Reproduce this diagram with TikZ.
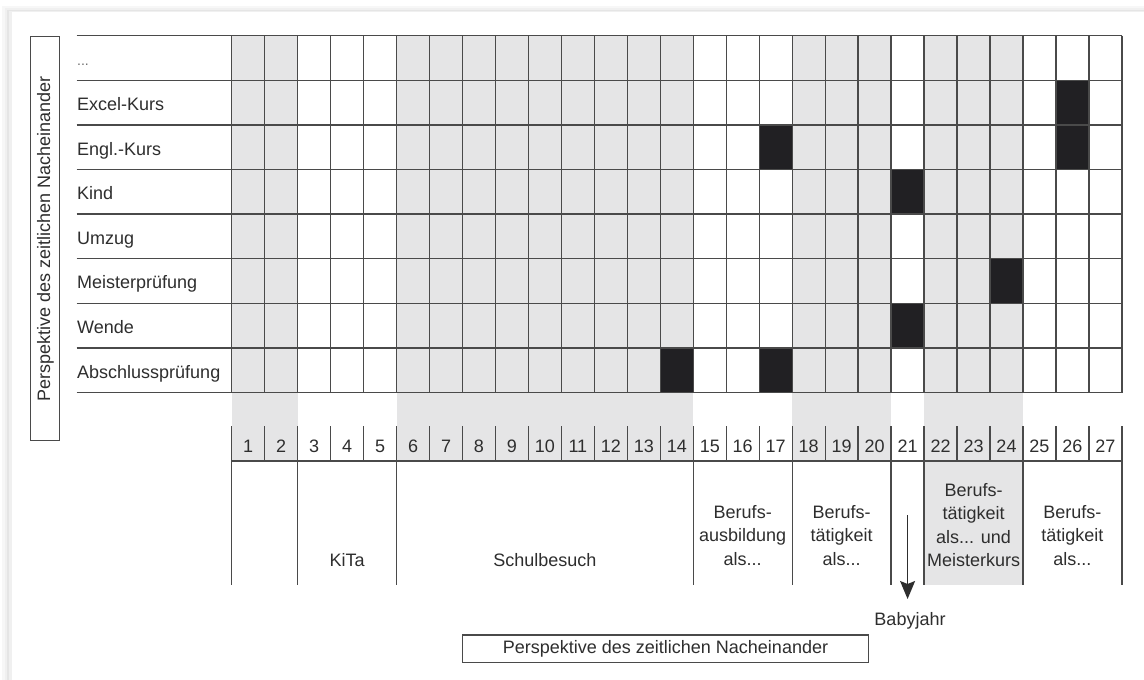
\documentclass[tikz,border=0pt]{standalone}
\usepackage{fontspec}
\setmainfont{Liberation Sans}
\usetikzlibrary{arrows.meta}
\definecolor{ln}{HTML}{4A4A4A}
\definecolor{tx}{HTML}{2E2E2E}
\definecolor{gr}{HTML}{E5E5E6}
\definecolor{bk}{HTML}{212023}
\begin{document}
\begin{tikzpicture}[x=1pt,y=-1pt,
  gridline/.style={draw=ln,line width=1.3pt},
  lbl/.style={text=tx,font=\fontsize{18}{23.5}\selectfont,inner sep=0pt},
  multi/.style={lbl,align=center,anchor=north},
  num/.style={lbl,anchor=base},
  boxlbl/.style={lbl,draw=ln,line width=1.2pt,text height=13pt,text depth=3pt}]
\def\xo{231.7}\def\cw{32.97}\def\yo{35.7}\def\rh{44.6}
\useasboundingbox (0,0) rectangle (1144,680);
% card with shadow
\fill[black!3] (2,6) rectangle (1144,680);
\fill[black!6] (5,8) rectangle (1144,680);
\fill[black!10] (7,10) rectangle (1144,680);
\fill[black!6] (9,11) rectangle (1144,680);
\fill[white] (12,12) rectangle (1144,680);
% gray columns
\foreach \a/\b in {0/2,5/14,17/20}
  \fill[gr] ({\xo+\a*\cw},\yo) rectangle ({\xo+\b*\cw},461);
\fill[gr] ({\xo+21*\cw},\yo) rectangle ({\xo+24*\cw},585);
% black cells
\foreach \c/\r/\h in {26/2/2,17/3/1,21/4/1,24/6/1,21/7/1,14/8/1,17/8/1}
  \fill[bk] ({\xo+(\c-1)*\cw},{\yo+(\r-1)*\rh}) rectangle ({\xo+\c*\cw},{\yo+(\r-1+\h)*\rh});
% grid
\foreach \i in {0,...,8}
  \draw[gridline] (76.7,{\yo+\i*\rh}) -- (1122,{\yo+\i*\rh});
\foreach \i in {0,...,27}
  \draw[gridline] ({\xo+\i*\cw},\yo) -- ({\xo+\i*\cw},{\yo+8*\rh});
% number row
\foreach \i in {0,...,27}
  \draw[gridline] ({\xo+\i*\cw},426) -- ({\xo+\i*\cw},461);
\draw[gridline] (\xo,461) -- (1122,461);
\foreach \i in {0,2,5,14,17,20,21,24,27}
  \draw[gridline] ({\xo+\i*\cw},461) -- ({\xo+\i*\cw},585);
\foreach \i in {1,...,27}
  \node[num] (n\i) at ({\xo+(\i-0.5)*\cw},452) {\i};
% row labels
\node[lbl,font=\fontsize{14}{16}\selectfont,text=tx!70,anchor=base west] (r1) at (77,65) {...};
\foreach \t [count=\k from 2] in {Excel-Kurs,Engl.-Kurs,Kind,Umzug,Meisterprüfung,Wende,Abschlussprüfung}
  \node[lbl,anchor=base west] (r\k) at (77,{\yo+(\k-0.5)*\rh+7.8}) {\t};
% bottom labels
\node[num] (kita) at ({\xo+3.5*\cw},566) {KiTa};
\node[num] (schule) at ({\xo+9.5*\cw},566) {Schulbesuch};
\node[multi] (ausb) at ({\xo+15.5*\cw},505) {Berufs-\\ausbildung\\als...};
\node[multi] (taet1) at ({\xo+18.5*\cw},505) {Berufs-\\tätigkeit\\als...};
\node[multi] (taet2) at ({\xo+22.5*\cw},483) {Berufs-\\tätigkeit\\als... und\\Meisterkurs};
\node[multi] (taet3) at ({\xo+25.5*\cw},505) {Berufs-\\tätigkeit\\als...};
% Babyjahr arrow
\coordinate (a1) at ({\xo+20.5*\cw},515);
\coordinate (a2) at ({\xo+20.5*\cw},599);
\draw[draw=tx,line width=1.3pt,-{Stealth[length=18pt,width=15pt,inset=3pt]}] (a1) -- (a2);
\node[num] (baby) at (910,625) {Babyjahr};
% perspective boxes
\node[boxlbl,minimum width=405.6pt,minimum height=27.7pt] (hbox) at (665.5,648.8) {Perspektive des zeitlichen Nacheinander};
\node[boxlbl,rotate=90,minimum width=404pt,minimum height=28.6pt] (vbox) at (45,238.7) {Perspektive des zeitlichen Nacheinander};
\end{tikzpicture}
\end{document}
